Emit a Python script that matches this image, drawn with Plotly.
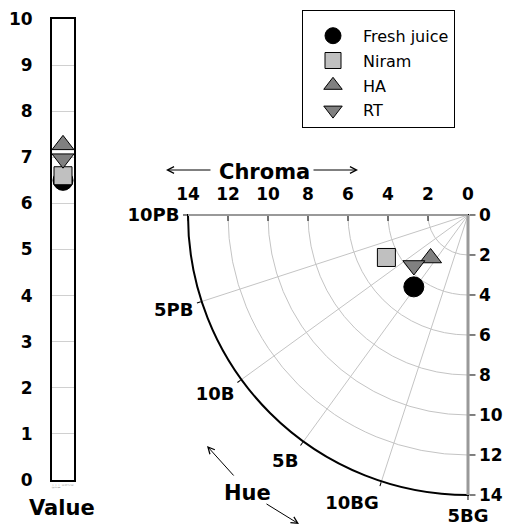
import plotly.graph_objects as go

# Munsell readings for each sample
samples = ["Fresh juice", "Niram", "HA", "RT"]
hue_deg = [53, 27.5, 49, 43]        # hue angle, degrees from 10PB towards 5BG
chroma = [4.5, 4.6, 2.85, 3.7]
value = [6.5, 6.6, 7.27, 6.97]

hue_ticks = [0, 18, 36, 54, 72, 90]
hue_labels = ["10PB", "5PB", "10B", "5B", "10BG", "5BG"]
chroma_ticks = [0, 2, 4, 6, 8, 10, 12, 14]
value_ticks = list(range(11))
bar_ticks = [-3, -2, -1, 0, 1, 2, 3]

symbols = ["circle", "square", "triangle-up", "triangle-down"]
fills = ["#000000", "#c0c0c0", "#808080", "#808080"]
sizes = [20, 18, 19, 19]

W, H = 515, 524
OFF = 8   # the page body margin shifts the plot by this many pixels
FONT = "DejaVu Sans, Verdana, sans-serif"
tickf = dict(family=FONT, size=17, color="black", weight="bold")
grid = "#c4c4c4"


def fx(px):
    return (px - OFF) / W


def fy(py):
    return 1 - (py - OFF) / H


fig = go.Figure()
for i, name in enumerate(samples):
    mk = dict(symbol=symbols[i], size=sizes[i], color=fills[i],
              line=dict(color="black", width=1))
    fig.add_trace(go.Scatterpolar(r=[chroma[i]], theta=[hue_deg[i]], mode="markers",
                                  name=name, marker=mk, legendgroup=name,
                                  subplot="polar"))
    fig.add_trace(go.Scatter(x=[0], y=[value[i]], mode="markers", marker=mk,
                             legendgroup=name, showlegend=False, cliponaxis=False,
                             xaxis="x", yaxis="y"))

# empty traces so the extra axis-only polar subplots get drawn
for sp in ["polar2", "polar3"]:
    fig.add_trace(go.Scatterpolar(r=[], theta=[], subplot=sp, showlegend=False,
                                  hoverinfo="skip"))

dom = dict(x=[0.3495, 0.8932], y=[0.0706, 0.605])
# with this rotation plotly counts the sector as 360..450 degrees
ang_ticks = [t + 360 for t in hue_ticks]

fig.update_layout(
    width=W, height=H,
    margin=dict(l=0, r=0, t=0, b=0, autoexpand=False),
    paper_bgcolor="white", plot_bgcolor="white",
    font=dict(family=FONT, color="black"),
    polar=dict(
        domain=dom, sector=[180, 270], bgcolor="white",
        angularaxis=dict(rotation=180, direction="counterclockwise", thetaunit="degrees",
                         tickmode="array", tickvals=ang_ticks, ticktext=hue_labels,
                         showline=True, linecolor="black", linewidth=2,
                         ticks="outside", ticklen=4, tickcolor="black",
                         gridcolor=grid,
                         tickfont=dict(family=FONT, size=18, color="black", weight="bold")),
        radialaxis=dict(range=[0, 14], tickvals=chroma_ticks, showticklabels=False,
                        ticks="inside", ticklen=5, tickcolor="black", angle=180,
                        showline=True, linecolor="#999999", linewidth=2,
                        gridcolor=grid),
    ),
    polar2=dict(
        domain=dom, sector=[180, 270], bgcolor="rgba(0,0,0,0)",
        angularaxis=dict(rotation=180, direction="counterclockwise", visible=False),
        radialaxis=dict(range=[0, 14], tickvals=chroma_ticks, angle=180, side="clockwise",
                        ticks="outside", ticklen=11, tickcolor="rgba(0,0,0,0)",
                        showline=False, showgrid=False, tickfont=tickf),
    ),
    polar3=dict(
        domain=dom, sector=[180, 270], bgcolor="rgba(0,0,0,0)",
        angularaxis=dict(rotation=180, direction="counterclockwise", visible=False),
        radialaxis=dict(range=[0, 14], tickvals=chroma_ticks, angle=270, tickangle=-90,
                        side="counterclockwise", ticks="outside", ticklen=6,
                        tickcolor="black", showline=True, linecolor="#999999",
                        linewidth=3, showgrid=False, tickfont=tickf,
                        tickprefix="\u2002"),
    ),
    xaxis=dict(domain=[fx(52), fx(74)], range=[-3.5, 3.5], tickvals=bar_ticks,
               tickfont=dict(size=3, color="#888888"), showline=True, mirror=True,
               linecolor="black", linewidth=2, showgrid=False, zeroline=False),
    yaxis=dict(domain=[fy(480), fy(19)], range=[0, 10], tickvals=value_ticks,
               showgrid=True, gridcolor="#d0d0d0", showline=True, mirror=True,
               linecolor="black", linewidth=2, zeroline=False, tickfont=tickf,
               ticklabelstandoff=14),
    legend=dict(x=fx(302), y=fy(10), xanchor="left", yanchor="top",
                bordercolor="black", borderwidth=1, bgcolor="white",
                font=dict(family=FONT, size=16, color="black"),
                title=dict(text="\u00a0", font=dict(size=6)),
                tracegroupgap=1, itemwidth=50),
    showlegend=True,
)


def label(text, px, py, size=21, anchor="center"):
    fig.add_annotation(x=fx(px), y=fy(py), xref="paper", yref="paper",
                       xanchor=anchor, yanchor="middle", text=text, showarrow=False,
                       font=dict(family=FONT, size=size, color="black", weight="bold"))


def arrow(tail, head):
    fig.add_annotation(x=fx(head[0]), y=fy(head[1]), xref="paper", yref="paper",
                       ax=tail[0] - head[0], ay=tail[1] - head[1], text="",
                       showarrow=True, arrowhead=5, arrowsize=1.3, arrowwidth=1,
                       arrowcolor="black")


label("Chroma", 264, 172)
arrow((212, 170), (166, 170))
arrow((312, 170), (358, 170))
label("Hue", 247, 493)
arrow((235, 477), (207, 446))
arrow((265, 503), (299, 524))
label("Value", 27, 508, anchor="left")

fig.write_html("out.html")
